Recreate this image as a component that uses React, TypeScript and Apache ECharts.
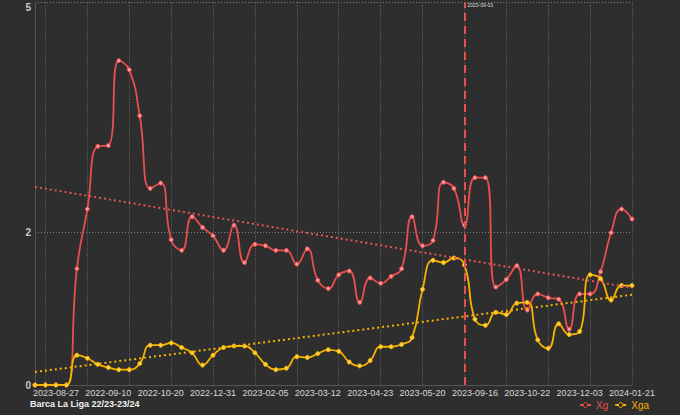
import React, { useEffect, useRef } from "react";
import * as echarts from "echarts";

const dates: string[] = [
  "2023-08-13", "2023-08-20", "2023-08-27", "2022-08-13", "2022-08-21",
  "2022-08-28", "2022-09-03", "2022-09-10", "2022-09-17", "2022-10-01",
  "2022-10-09", "2022-10-16", "2022-10-20", "2022-10-23", "2022-10-29",
  "2022-11-05", "2022-11-08", "2022-12-31", "2023-01-08", "2023-01-15",
  "2023-01-22", "2023-01-29", "2023-02-05", "2023-02-12", "2023-02-19",
  "2023-02-26", "2023-03-05", "2023-03-12", "2023-03-19", "2023-04-02",
  "2023-04-10", "2023-04-18", "2023-04-23", "2023-04-26", "2023-04-30",
  "2023-05-02", "2023-05-14", "2023-05-20", "2023-05-23", "2023-05-28",
  "2023-06-04", "2023-09-03", "2023-09-16", "2023-09-23", "2023-09-26",
  "2023-09-29", "2023-10-08", "2023-10-22", "2023-10-28", "2023-11-04",
  "2023-11-12", "2023-11-25", "2023-12-03", "2023-12-10", "2023-12-16",
  "2023-12-20", "2024-01-04", "2024-01-21",
];

const xg: number[] = [
  0, 0, 0, 0, 1.52, 2.3, 3.12, 3.13, 4.24, 4.12,
  3.52, 2.57, 2.64, 1.9, 1.76, 2.2, 2.06, 1.95, 1.76, 2.09,
  1.6, 1.84, 1.82, 1.76, 1.76, 1.58, 1.78, 1.37, 1.26, 1.44,
  1.49, 1.08, 1.4, 1.33, 1.42, 1.52, 2.2, 1.82, 1.89, 2.65,
  2.57, 2.09, 2.71, 2.71, 1.28, 1.38, 1.56, 0.98, 1.19, 1.14,
  1.12, 0.73, 1.19, 1.19, 1.48, 1.99, 2.3, 2.17,
];

const xga: number[] = [
  0, 0, 0, 0, 0.39, 0.35, 0.27, 0.23, 0.2, 0.2,
  0.28, 0.52, 0.52, 0.55, 0.49, 0.42, 0.26, 0.39, 0.49, 0.51,
  0.51, 0.42, 0.27, 0.2, 0.22, 0.37, 0.36, 0.41, 0.46, 0.44,
  0.3, 0.25, 0.32, 0.5, 0.5, 0.53, 0.62, 1.25, 1.63, 1.6,
  1.66, 1.57, 0.86, 0.78, 0.95, 0.92, 1.07, 1.08, 0.59, 0.48,
  0.8, 0.66, 0.7, 1.44, 1.39, 1.11, 1.3, 1.3,
];

// trend line values at first and last category
const xgTrend: number[] = [2.59, 1.27];
const xgaTrend: number[] = [0.17, 1.18];

const yLabels: number[] = [0, 2, 5];
const markDate = "2023-09-03";
const title = "Barca La Liga 22/23-23/24";

const RED = "#ea4d4d";
const YEL = "#f5b300";
const BG = "#2e2e2e";

export default function App() {
  const ref = useRef<HTMLDivElement>(null);
  useEffect(() => {
    document.body.style.margin = "0";
    const chart = echarts.init(ref.current!, null, { renderer: "svg" });
    const first = dates[0];
    const last = dates[dates.length - 1];
    chart.setOption({
      animation: false,
      backgroundColor: BG,
      textStyle: { fontFamily: "Liberation Sans, Arial, sans-serif" },
      title: {
        text: title,
        left: 25,
        top: 394,
        textStyle: { color: "#f0f0f0", fontSize: 9, fontWeight: "bold" },
      },
      legend: {
        right: 26,
        top: 395,
        itemWidth: 11,
        itemHeight: 6,
        itemGap: 6,
        textStyle: { fontSize: 10 },
        itemStyle: { color: BG, borderWidth: 1 },
        data: [
          { name: "Xg", textStyle: { color: RED } },
          { name: "Xga", textStyle: { color: YEL } },
        ],
      },
      grid: { left: 35, right: 48, top: 2.5, bottom: 30 },
      xAxis: {
        type: "category",
        data: dates,
        boundaryGap: false,
        axisLine: { show: true, lineStyle: { color: "#555" } },
        axisTick: { show: false },
        axisLabel: {
          color: "#d8d8d8",
          fontSize: 9,
          margin: 3,
          interval: (i: number) => i % 5 === 2,
        },
        splitLine: {
          show: true,
          interval: (i: number) => i % 4 === 1,
          lineStyle: { color: "#6e6e6e", type: [1, 2], width: 1 },
        },
      },
      yAxis: {
        type: "value",
        min: 0,
        max: 5,
        interval: 1,
        axisLine: { show: true, lineStyle: { color: "#555" } },
        axisTick: { show: false },
        axisLabel: {
          color: "#c8c8c8",
          fontSize: 10,
          fontWeight: "bold",
          margin: 4,
          formatter: (v: number) =>
            yLabels.indexOf(v) < 0 ? "" : v === 5 ? "{t|5}" : String(v),
          rich: { t: { padding: [9, 0, 0, 0], fontSize: 10, fontWeight: "bold", color: "#c8c8c8" } },
        },
        splitLine: {
          show: true,
          lineStyle: {
            color: ["transparent", "transparent", "#808080", "transparent", "transparent", "#808080"],
            type: [1, 2],
          },
        },
      },
      series: [
        {
          name: "Xg",
          type: "line",
          data: xg,
          smooth: 0.5,
          symbol: "circle",
          symbolSize: 4,
          lineStyle: { color: RED, width: 1.8 },
          itemStyle: { color: "#ff9a9a", borderColor: RED, borderWidth: 1 },
          markLine: {
            silent: true,
            symbol: "none",
            data: [
              [
                { coord: [first, xgTrend[0]] },
                { coord: [last, xgTrend[1]] },
              ],
              {
                xAxis: markDate,
                lineStyle: { color: "#e55050", type: [8, 5], width: 2 },
                label: {
                  show: true,
                  position: "end",
                  formatter: markDate,
                  color: "#ddd",
                  fontSize: 5,
                  align: "left",
                  verticalAlign: "top",
                  offset: [3, 5],
                },
              },
            ],
            lineStyle: { color: "#e55555", type: [2, 3], width: 2 },
            label: { show: false },
          },
          z: 2,
        },
        {
          name: "Xga",
          type: "line",
          data: xga,
          smooth: 0.5,
          symbol: "circle",
          symbolSize: 4,
          lineStyle: { color: YEL, width: 1.8 },
          itemStyle: { color: "#ffd24a", borderColor: YEL, borderWidth: 1 },
          markLine: {
            silent: true,
            symbol: "none",
            data: [
              [
                { coord: [first, xgaTrend[0]] },
                { coord: [last, xgaTrend[1]] },
              ],
            ],
            lineStyle: { color: "#f2b600", type: [2, 3], width: 2 },
            label: { show: false },
          },
          z: 3,
        },
      ],
    });
    return () => chart.dispose();
  }, []);
  return <div ref={ref} style={{ width: 680, height: 415 }} />;
}
